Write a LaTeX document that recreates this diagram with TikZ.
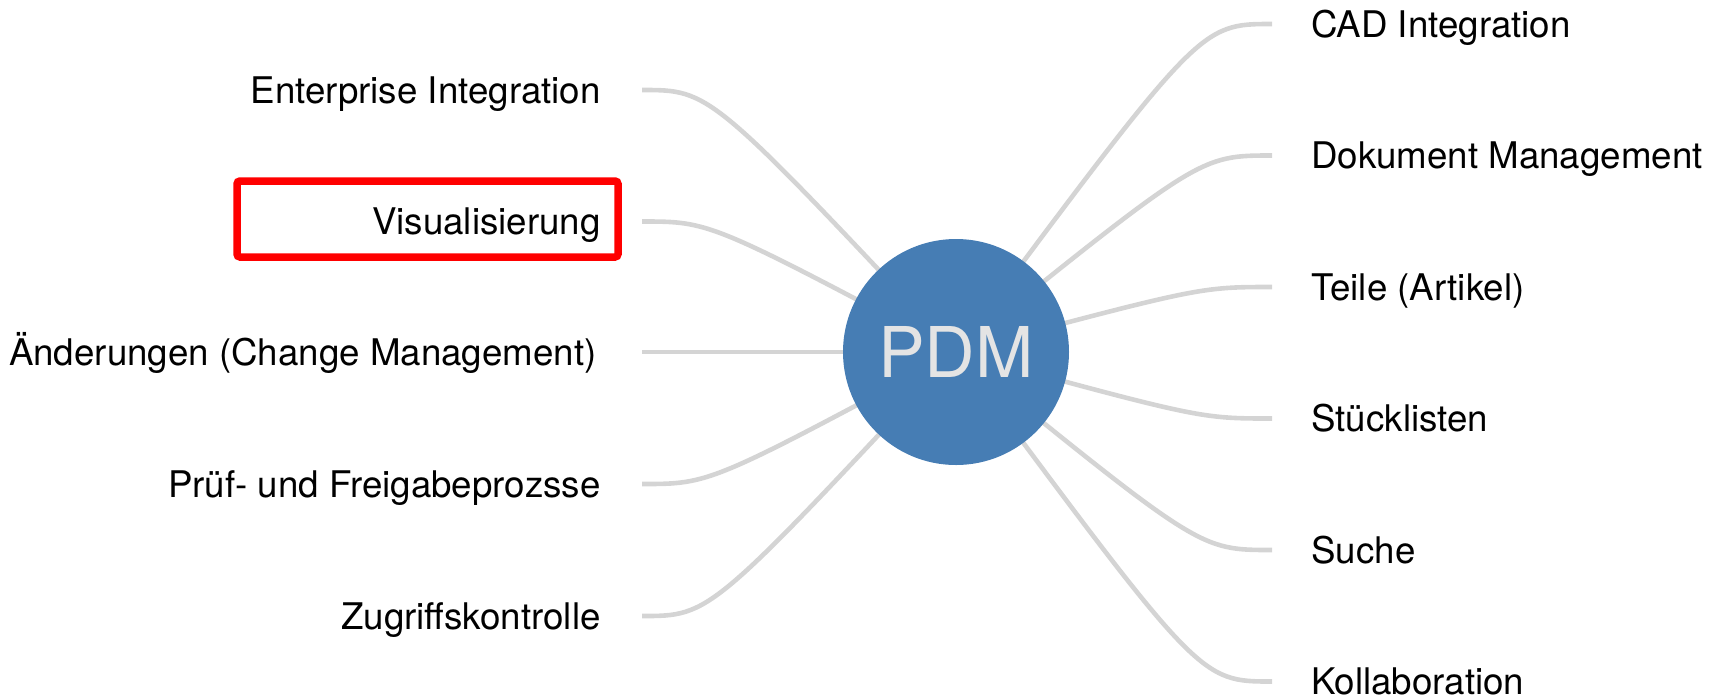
\documentclass[tikz,border=0pt]{standalone}
\usepackage{fontspec}
\setmainfont{TeX Gyre Heros}
\usetikzlibrary{backgrounds}
\definecolor{linkgray}{RGB}{212,212,212}
\definecolor{hubblue}{RGB}{70,125,180}
\definecolor{pdmtext}{RGB}{228,228,228}
\begin{document}
\begin{tikzpicture}[x=0.5pt,y=-0.5pt,
  link/.style={draw=linkgray, line width=2.3pt},
  leaf/.style={font=\fontsize{18.35}{22}\selectfont, inner sep=0pt, text=black, text depth=0pt},
  hub/.style={circle, fill=hubblue, minimum size=113pt, inner sep=0pt,
    font=\fontsize{35}{40}\selectfont, text=pdmtext},
  hlbox/.style={draw=red, line width=3.75pt, rounded corners=1.5pt,
    minimum width=190.5pt, minimum height=38pt, inner sep=0pt}]
\useasboundingbox (0,0) rectangle (1725,698);

% hub
\node[hub] (pdm) at (956,352) {PDM};

% left line ends
\coordinate (l1) at (642,90);
\coordinate (l2) at (642,221.5);
\coordinate (l3) at (642,352);
\coordinate (l4) at (642,484);
\coordinate (l5) at (642,616);
% right line ends
\coordinate (r1) at (1272,24);
\coordinate (r2) at (1272,155.5);
\coordinate (r3) at (1272,287);
\coordinate (r4) at (1272,418.5);
\coordinate (r5) at (1272,550);
\coordinate (r6) at (1272,681.5);

% left labels
\node[leaf, anchor=base east] (t1) at (601,103.2) {Enterprise Integration};
\node[leaf, anchor=base east] (t2) at (601,234.7) {Visualisierung};
\node[leaf, anchor=base east] (t3) at (597,365.2) {Änderungen (Change Management)};
\node[leaf, anchor=base east] (t4) at (601,497.2) {Prüf- und Freigabeprozsse};
\node[leaf, anchor=base east] (t5) at (601,629.2) {Zugriffskontrolle};
% right labels
\node[leaf, anchor=base west] (s1) at (1311,37.2) {CAD Integration};
\node[leaf, anchor=base west] (s2) at (1311,168.7) {Dokument Management};
\node[leaf, anchor=base west] (s3) at (1311,300.2) {Teile (Artikel)};
\node[leaf, anchor=base west] (s4) at (1311,431.7) {Stücklisten};
\node[leaf, anchor=base west] (s5) at (1311,563.2) {Suche};
\node[leaf, anchor=base west] (s6) at (1311,694.2) {Kollaboration};

% highlight box
\node[hlbox] (hl) at (427.5,219) {};

\begin{scope}[on background layer]
\draw[link] (l1) .. controls (710,90) and (710,90) .. (pdm.center);
\draw[link] (l2) .. controls (710,221.5) and (710,221.5) .. (pdm.center);
\draw[link] (l3) -- (pdm.center);
\draw[link] (l4) .. controls (710,484) and (710,484) .. (pdm.center);
\draw[link] (l5) .. controls (710,616) and (710,616) .. (pdm.center);
\draw[link] (pdm.center) .. controls (1200,24) and (1200,24) .. (r1);
\draw[link] (pdm.center) .. controls (1200,155.5) and (1200,155.5) .. (r2);
\draw[link] (pdm.center) .. controls (1200,287) and (1200,287) .. (r3);
\draw[link] (pdm.center) .. controls (1200,418.5) and (1200,418.5) .. (r4);
\draw[link] (pdm.center) .. controls (1200,550) and (1200,550) .. (r5);
\draw[link] (pdm.center) .. controls (1200,681.5) and (1200,681.5) .. (r6);
\end{scope}
\end{tikzpicture}
\end{document}
